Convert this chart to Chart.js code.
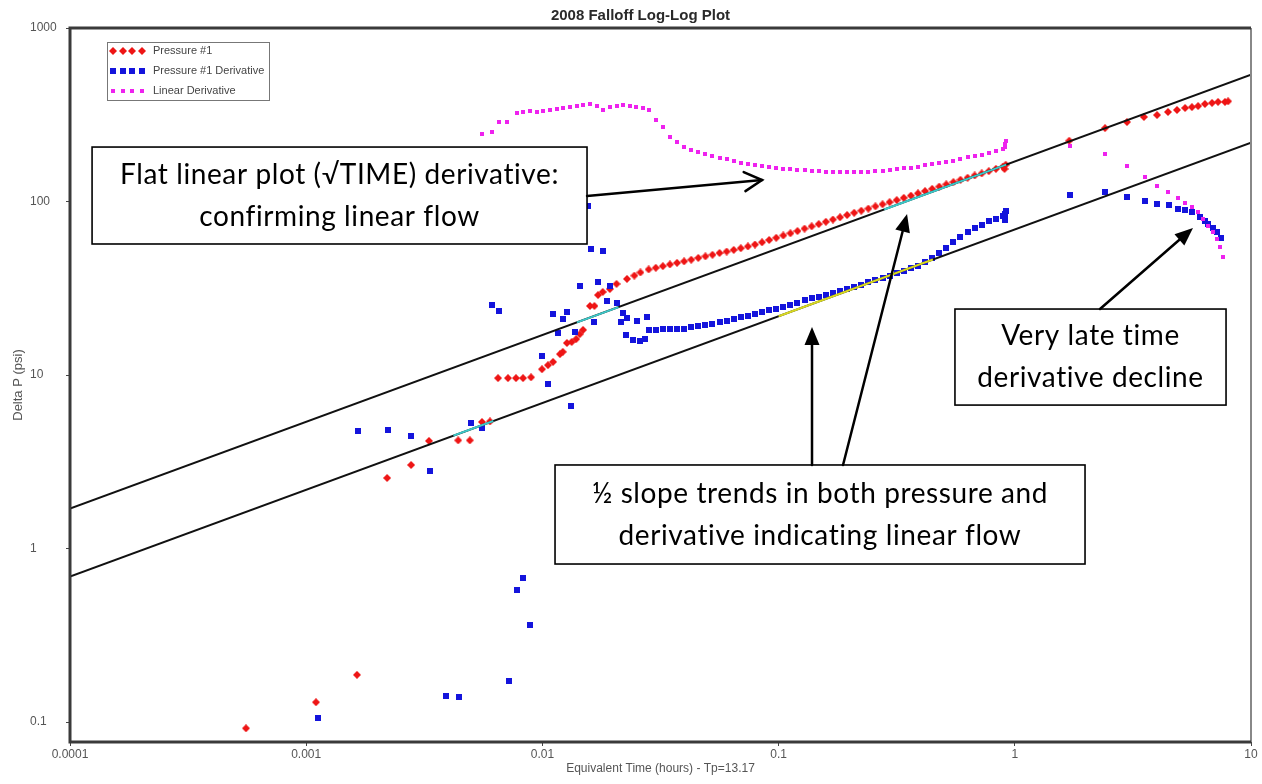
<!DOCTYPE html>
<html>
<head>
<meta charset="utf-8">
<script src="https://cdn.jsdelivr.net/npm/chart.js@4/dist/chart.umd.min.js"></script>
<style>
html,body{margin:0;padding:0;background:#fff;}
#wrap{width:1262px;height:784px;position:relative;}
</style>
</head>
<body>
<div id="wrap"><canvas id="c"></canvas></div>
<script>
// ---------- text ----------
const chartTitle = '2008 Falloff Log-Log Plot';
const xAxisTitle = 'Equivalent Time (hours) - Tp=13.17';
const yAxisTitle = 'Delta P (psi)';
const seriesNames = ['Pressure #1', 'Pressure #1 Derivative', 'Linear Derivative'];

// ---------- ticks ----------
const xTickValues = [0.0001, 0.001, 0.01, 0.1, 1, 10];
const xTickLabels = ['0.0001', '0.001', '0.01', '0.1', '1', '10'];
const yTickValues = [0.1, 1, 10, 100, 1000];
const yTickLabels = ['0.1', '1', '10', '100', '1000'];

// ---------- Pressure #1 ----------
const pressureEarlyTime = [0.000556,0.0011,0.00164,0.0022,0.00278,0.00331,0.0044,0.00493,0.00555,0.006,0.00649,0.00715,0.00773,0.00828,0.00895,0.00996,0.01056,0.01109,0.01187,0.0122,0.0127,0.0133,0.0139,0.0144,0.01486,0.0159,0.0166,0.0172,0.018,0.0193,0.0206,0.0228,0.0245,0.026];
const pressureEarly = [0.092,0.13,0.187,2.55,3.03,4.17,4.2,4.2,5.36,5.4,9.6,9.6,9.6,9.6,9.7,10.8,11.4,11.9,13.2,13.6,15.3,15.5,16.1,17.2,18.2,25.0,25.0,28.9,30.1,31.3,33.5,35.8,37.4,39.0];

// dense middle section (shared time stamps)
const denseTime = [0.02818,0.0302,0.03236,0.03467,0.03715,0.03981,0.04266,0.04571,0.04898,0.05248,0.05623,0.06026,0.06457,0.06918,0.07413,0.07943,0.08511,0.0912,0.09772,0.1047,0.1122,0.1202,0.1288,0.138,0.1479,0.1585,0.1698,0.182,0.195,0.2089,0.2239,0.2399,0.257,0.2754,0.2951,0.3162,0.3388,0.3631,0.389,0.4169,0.4467,0.4786,0.5129,0.5495,0.5888,0.631,0.6761,0.7244,0.7762,0.8318,0.8913];
const pressureDense = [40.6,41.5,42.4,43.4,44.3,45.2,46.2,47.3,48.3,49.3,50.5,51.5,52.6,53.8,55.1,56.5,58.2,60.0,61.8,63.7,65.6,67.6,69.8,71.9,74.1,76.4,78.7,81.1,83.6,86.1,88.5,91.0,93.8,96.4,99.1,101.9,105.0,108.1,111.4,114.8,118.3,121.9,125.6,129.4,133.4,137.1,141.3,145.2,149.6,154.2,158.9];
const derivativeDense = [18.2,18.2,18.3,18.3,18.4,18.5,18.8,19.1,19.5,19.8,20.2,20.6,21.1,21.6,22.0,22.5,23.0,23.6,24.1,24.7,25.4,26.1,26.9,27.7,28.3,29.0,29.8,30.5,31.3,32.3,33.2,34.2,35.2,36.1,37.3,38.5,39.9,41.2,42.7,45.0,47.0,50.7,54.1,58.1,62.4,67.0,70.0,73.6,77.1,79.8,82.0];
const linearDerivDense = [339,295,269,235,221,205,197,192,187.5,183,179,175,171,167.5,164,161.4,159.6,157.8,156.3,154.9,153.5,152.4,151.4,150.3,149.6,148.9,148.3,147.9,147.9,147.9,148.3,148.6,149.3,150.0,151.7,153.5,155.2,157.0,158.9,161.4,163.7,166.3,169.0,172.2,175.8,179.5,182.8,186.2,190.1,195.0,201.8];

const pressureLateTime = [0.905,0.915,1.70,2.41,2.985,3.52,4.0,4.45,4.86,5.26,5.62,5.97,6.38,6.84,7.25,7.76,8.0];
const pressureLate = [154,163,224,265,287,307,315,328,337,346,350,355,365,370,375,375,378];

// ---------- Pressure #1 Derivative ----------
const derivEarlyTime = [0.00112,0.001656,0.00222,0.00278,0.00334,0.00391,0.00445,0.00499,0.00555,0.00612,0.00658,0.00722,0.0078,0.00828,0.0089,0.00996,0.0106,0.0111,0.01165,0.0122,0.0127,0.01322,0.0137,0.0144,0.0156,0.0161,0.0165,0.0172,0.018,0.01877,0.0193,0.0206,0.0216,0.0219,0.0226,0.0229,0.0241,0.0252,0.0258,0.0272,0.0277];
const derivEarly = [0.105,4.75,4.8,4.45,2.8,0.141,0.139,5.29,4.95,25.3,23.4,0.172,0.577,0.676,0.362,12.9,8.9,22.5,17.5,21.0,23.0,6.63,17.6,32.6,94.2,53.2,20.2,34.2,51.6,26.7,32.6,25.9,20.2,22.7,17.0,21.4,16.0,20.6,15.6,16.1,21.6];
const derivLateTime = [0.905,0.91,0.915,1.713,2.41,2.99,3.56,4.0,4.5,4.9,5.26,5.62,6.07,6.38,6.6,6.9,7.15,7.5];
const derivLate = [78,85,88,109,113.5,106,100.7,96.7,95.4,90.5,89.4,87.0,81.4,77.2,74.2,70.4,66.7,61.6];

// ---------- Linear Derivative ----------
const linEarlyTime = [0.00555,0.00612,0.00658,0.0071,0.0078,0.00828,0.0089,0.0095,0.0101,0.0108,0.0115,0.0122,0.0131,0.014,0.0149,0.0159,0.017,0.018,0.0193,0.0206,0.0219,0.0234,0.025,0.0267];
const linEarly = [245,251,287,287,324,328,332,328,332,337,341,346,350,355,360,365,355,337,350,355,360,355,350,346];
const linLateTime = [0.905,0.91,0.915,1.713,2.41,2.99,3.56,4.0,4.45,4.9,5.26,5.62,5.97,6.28,6.6,6.9,7.2,7.4,7.6];
const linLate = [207,215,223,209,188,160,138,123,113.5,105,98,93,87,79,72,66.7,60.8,54.7,47.9];

// ---------- half-slope trend lines and fit segments ----------
const trendTime = [0.0001, 10];
const upperTrend = [1.70, 537.6];
const lowerTrend = [0.69, 218.2];
const cyanFitTime = [0.28, 0.92];
const cyanFit = [90.0, 163.1];
const cyanFit2Time = [0.014, 0.021];
const cyanFit2 = [20.1, 24.6];
const yellowFitTime = [0.10, 0.45];
const yellowFit = [21.8, 46.3];
const cyanFit3Time = [0.0042, 0.0062];
const cyanFit3 = [4.47, 5.43];

// ---------- helpers ----------
const FONT = 'Liberation Sans, Arial, sans-serif';
const pts = (xs, ys) => xs.map((x, i) => ({x: x, y: ys[i]}));

function markerCanvas(shape, w, h, color) {
  const c = document.createElement('canvas');
  c.width = w; c.height = h;
  const g = c.getContext('2d');
  g.fillStyle = color;
  if (shape === 'diamond') {
    g.beginPath();
    g.moveTo(w / 2, 0); g.lineTo(w, h / 2); g.lineTo(w / 2, h); g.lineTo(0, h / 2);
    g.closePath(); g.fill();
  } else {
    g.fillRect(0, 0, w, h);
  }
  return c;
}
const RED = '#ee1515', BLUE = '#1414dc', MAG = '#ee22ee';
const redMark = markerCanvas('diamond', 8, 8, RED);
const blueMark = markerCanvas('square', 6, 6, BLUE);
const magMark = markerCanvas('square', 4, 4, MAG);
const markers = [redMark, blueMark, magMark];

// annotation layout (in data coordinates)
const noteBoxes = [
  {lines: ['Flat linear plot (\u221ATIME) derivative:', 'confirming linear flow'], x0: 1.24e-4, y0: 206, x1: 0.01545, y1: 56.9},
  {lines: ['\u00BD slope trends in both pressure and', 'derivative indicating linear flow'], x0: 0.01131, y0: 3.03, x1: 1.983, y1: 0.814},
  {lines: ['Very late time', 'derivative decline'], x0: 0.558, y0: 24.0, x1: 7.84, y1: 6.71}
];
const noteArrows = [
  {from: [0.01545, 107.6], to: [0.0851, 133], head: 'open'},
  {from: [0.1385, 3.03], to: [0.1385, 18.9], head: 'solid'},
  {from: [0.1874, 3.03], to: [0.3498, 84.7], head: 'solid'},
  {from: [2.295, 24.0], to: [5.68, 70.4], head: 'solid'}
];

const decorPlugin = {
  id: 'decor',
  afterDraw(chart) {
    const ctx = chart.ctx, a = chart.chartArea;
    const sx = chart.scales.x, sy = chart.scales.y;
    const P = (x, y) => [sx.getPixelForValue(x), sy.getPixelForValue(y)];
    ctx.save();
    // frame
    ctx.strokeStyle = '#888'; ctx.lineWidth = 2;
    ctx.beginPath(); ctx.moveTo(a.right, a.top); ctx.lineTo(a.right, a.bottom); ctx.stroke();
    ctx.strokeStyle = '#3a3a3a'; ctx.lineWidth = 3;
    ctx.beginPath();
    ctx.moveTo(a.right, a.top); ctx.lineTo(a.left, a.top); ctx.lineTo(a.left, a.bottom); ctx.lineTo(a.right, a.bottom);
    ctx.stroke();
    // y title
    ctx.save();
    ctx.translate(18, (a.top + a.bottom) / 2);
    ctx.rotate(-Math.PI / 2);
    ctx.fillStyle = '#555'; ctx.font = '13px ' + FONT;
    ctx.textAlign = 'center'; ctx.textBaseline = 'middle';
    ctx.fillText(yAxisTitle, 0, 0);
    ctx.restore();
    // legend
    const lx = a.left + 37, ly = a.top + 14;
    ctx.fillStyle = '#fff'; ctx.fillRect(lx, ly, 162, 58);
    ctx.strokeStyle = '#777'; ctx.lineWidth = 1;
    ctx.strokeRect(lx + 0.5, ly + 0.5, 162, 58);
    ctx.font = '11px ' + FONT; ctx.textAlign = 'left'; ctx.textBaseline = 'middle';
    seriesNames.forEach((name, i) => {
      const ry = ly + 9 + i * 20;
      for (let k = 0; k < 4; k++) {
        const m = markers[i];
        ctx.drawImage(m, Math.round(lx + 6 + k * 9.5 - m.width / 2), Math.round(ry - m.height / 2));
      }
      ctx.fillStyle = '#444';
      ctx.fillText(name, lx + 46, ry);
    });
    // annotation boxes
    noteBoxes.forEach(b => {
      const [x0, y0] = P(b.x0, b.y0), [x1, y1] = P(b.x1, b.y1);
      ctx.fillStyle = '#fff'; ctx.fillRect(x0, y0, x1 - x0, y1 - y0);
      ctx.strokeStyle = '#000'; ctx.lineWidth = 1.6;
      ctx.strokeRect(x0, y0, x1 - x0, y1 - y0);
      ctx.fillStyle = '#000'; ctx.font = '28px Lato, "Open Sans", sans-serif';
      if ('letterSpacing' in ctx) ctx.letterSpacing = '0.6px';
      ctx.textAlign = 'center'; ctx.textBaseline = 'middle';
      const cx = (x0 + x1) / 2, cy = (y0 + y1) / 2;
      ctx.fillText(b.lines[0], cx, cy - 21);
      ctx.fillText(b.lines[1], cx, cy + 21);
      if ('letterSpacing' in ctx) ctx.letterSpacing = '0px';
    });
    // arrows
    noteArrows.forEach(ar => {
      const [x0, y0] = P(ar.from[0], ar.from[1]), [x1, y1] = P(ar.to[0], ar.to[1]);
      const ang = Math.atan2(y1 - y0, x1 - x0);
      ctx.strokeStyle = '#000'; ctx.fillStyle = '#000'; ctx.lineWidth = 2.5;
      ctx.lineCap = 'round';
      if (ar.head === 'open') {
        ctx.beginPath(); ctx.moveTo(x0, y0); ctx.lineTo(x1, y1); ctx.stroke();
        const L = 20, h = 0.5;
        ctx.beginPath();
        ctx.moveTo(x1 - L * Math.cos(ang - h), y1 - L * Math.sin(ang - h));
        ctx.lineTo(x1, y1);
        ctx.lineTo(x1 - L * Math.cos(ang + h), y1 - L * Math.sin(ang + h));
        ctx.stroke();
      } else {
        const L = 18, W = 7.5;
        const bx = x1 - L * Math.cos(ang), by = y1 - L * Math.sin(ang);
        ctx.beginPath(); ctx.moveTo(x0, y0); ctx.lineTo(bx, by); ctx.stroke();
        ctx.beginPath();
        ctx.moveTo(x1, y1);
        ctx.lineTo(bx + W * Math.sin(ang), by - W * Math.cos(ang));
        ctx.lineTo(bx - W * Math.sin(ang), by + W * Math.cos(ang));
        ctx.closePath(); ctx.fill();
      }
    });
    ctx.restore();
  }
};

Chart.defaults.font.family = FONT;

const lineDs = (label, xs, ys, color, w) => ({
  label: label, data: pts(xs, ys), showLine: true, borderColor: color, backgroundColor: color,
  borderWidth: w, pointRadius: 0, fill: false
});

new Chart(document.getElementById('c'), {
  type: 'scatter',
  data: {
    datasets: [
      lineDs('cyan fit', cyanFitTime, cyanFit, '#3cc8c8', 2),
      lineDs('cyan fit 2', cyanFit2Time, cyanFit2, '#3cc8c8', 2),
      lineDs('cyan fit 3', cyanFit3Time, cyanFit3, '#3cc8c8', 2),
      lineDs('yellow fit', yellowFitTime, yellowFit, '#d8d820', 2),
      lineDs('upper half slope', trendTime, upperTrend, '#111', 2),
      lineDs('lower half slope', trendTime, lowerTrend, '#111', 2),
      {label: seriesNames[2], data: [...pts(linEarlyTime, linEarly), ...pts(denseTime, linearDerivDense), ...pts(linLateTime, linLate)],
       pointStyle: magMark, pointRadius: 3, showLine: false},
      {label: seriesNames[1], data: [...pts(derivEarlyTime, derivEarly), ...pts(denseTime, derivativeDense), ...pts(derivLateTime, derivLate)],
       pointStyle: blueMark, pointRadius: 3, showLine: false},
      {label: seriesNames[0], data: [...pts(pressureEarlyTime, pressureEarly), ...pts(denseTime, pressureDense), ...pts(pressureLateTime, pressureLate)],
       pointStyle: redMark, pointRadius: 3, showLine: false}
    ]
  },
  options: {
    responsive: true,
    maintainAspectRatio: false,
    animation: false,
    events: [],
    layout: {padding: {left: 30, right: 11, top: 0, bottom: 0}},
    plugins: {
      legend: {display: false},
      tooltip: {enabled: false},
      title: {display: true, text: chartTitle, color: '#2a2a2a',
              font: {size: 15, weight: 'bold', family: FONT}, padding: {top: 7, bottom: 3}}
    },
    scales: {
      x: {
        type: 'logarithmic', min: 0.0001, max: 10,
        afterBuildTicks: s => { s.ticks = xTickValues.map(v => ({value: v})); },
        afterFit: s => { s.height = 42; },
        ticks: {callback: (v, i) => xTickLabels[i], autoSkip: false, maxRotation: 0,
                color: '#555', font: {size: 12}, padding: 1},
        grid: {drawOnChartArea: false, drawTicks: true, tickLength: 4, color: '#444'},
        border: {display: false},
        title: {display: true, text: xAxisTitle, color: '#555', font: {size: 12}, padding: {top: 0, bottom: 8}}
      },
      y: {
        type: 'logarithmic', min: 0.0767, max: 1000,
        afterBuildTicks: s => { s.ticks = yTickValues.map(v => ({value: v})); },
        afterFit: s => { s.width = 40; },
        ticks: {callback: (v, i) => yTickLabels[i], autoSkip: false, crossAlign: 'far',
                color: '#555', font: {size: 12}, padding: 4},
        grid: {drawOnChartArea: false, drawTicks: true, tickLength: 4, color: '#444'},
        border: {display: false}
      }
    }
  },
  plugins: [decorPlugin]
});
</script>
</body>
</html>
